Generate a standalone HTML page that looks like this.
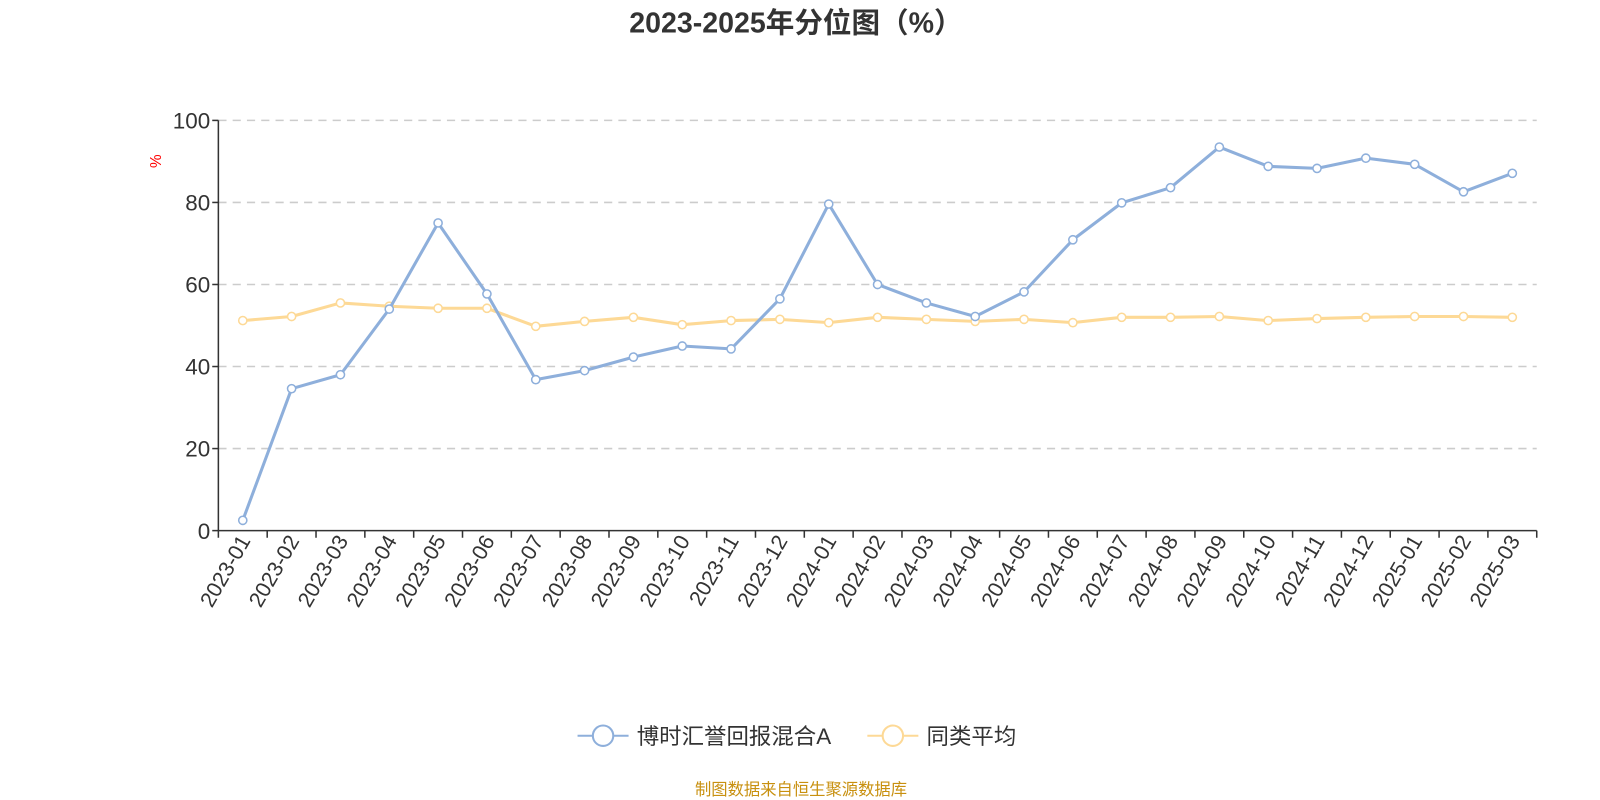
<!DOCTYPE html>
<html><head><meta charset="utf-8"><style>
body{margin:0;background:#fff;font-family:"Liberation Sans","Noto Sans CJK SC",sans-serif;}
svg{display:block;}
</style></head><body>
<svg width="1600" height="800" viewBox="0 0 1568 784" xmlns="http://www.w3.org/2000/svg" font-family="Liberation Sans, Noto Sans CJK SC, sans-serif">
<text x="780" y="32" text-anchor="middle" font-size="28" font-weight="bold" fill="#333">2023-2025年分位图（%）</text>
<text x="158" y="158" transform="rotate(-90 158 158)" text-anchor="middle" font-size="15" fill="red">%</text>
<g id="grid"></g><g id="axes"></g><g id="series"></g>
<g>
<g>
<line x1="566" y1="721" x2="616" y2="721" stroke="#8eafdb" stroke-width="2"/><circle cx="591" cy="721" r="10" fill="#fff" stroke="#8eafdb" stroke-width="2"/>
<text x="624" y="729" font-size="22" fill="#333">博时汇誉回报混合A</text></g>
<g>
<line x1="850" y1="721" x2="900" y2="721" stroke="#fdd996" stroke-width="2"/><circle cx="875" cy="721" r="10" fill="#fff" stroke="#fdd996" stroke-width="2"/>
<text x="908" y="729" font-size="22" fill="#333">同类平均</text></g>
</g>
<text x="785" y="779" text-anchor="middle" font-size="16" fill="#c8900f">制图数据来自恒生聚源数据库</text>
</svg>
<script>
const categories=["2023-01","2023-02","2023-03","2023-04","2023-05","2023-06","2023-07","2023-08","2023-09","2023-10","2023-11","2023-12","2024-01","2024-02","2024-03","2024-04","2024-05","2024-06","2024-07","2024-08","2024-09","2024-10","2024-11","2024-12","2025-01","2025-02","2025-03"];
const fundValues=[2.5,34.6,38,54,75,57.7,36.8,39,42.3,45,44.3,56.5,79.6,60,55.5,52.2,58.2,70.9,79.9,83.6,93.5,88.8,88.3,90.8,89.3,82.6,87.1];
const avgValues=[51.2,52.2,55.5,54.7,54.2,54.2,49.8,51,52,50.2,51.2,51.5,50.7,52,51.5,51,51.5,50.7,52,52,52.2,51.2,51.7,52,52.2,52.2,52];
const yTicks=[0,20,40,60,80,100];
const NS="http://www.w3.org/2000/svg";
const X0=214,X1=1506,Y0=520,Y1=118;
const bw=(X1-X0)/categories.length;
const xs=i=>X0+bw*(i+0.5);
const ys=v=>Y0-(v/100)*(Y0-Y1);
function mk(t,a,p){const e=document.createElementNS(NS,t);for(const k in a)e.setAttribute(k,a[k]);p.appendChild(e);return e;}
const grid=document.getElementById('grid'),axes=document.getElementById('axes'),ser=document.getElementById('series');
yTicks.forEach(v=>{
 if(v>0){const g=mk('line',{x1:X0,x2:X1,y1:ys(v),y2:ys(v),stroke:'#ccc','stroke-width':1.5,'stroke-dasharray':'8,6'},grid);
 
 }
 const t=mk('text',{x:X0-8,y:ys(v)+8,'text-anchor':'end','font-size':22,fill:'#333'},axes);t.textContent=v;
 
 
 mk('line',{x1:X0-6,x2:X0,y1:ys(v),y2:ys(v),stroke:'#333','stroke-width':1.5},axes);
});
let ya=mk('line',{x1:X0,x2:X0,y1:Y1,y2:Y0,stroke:'#333','stroke-width':1.5},axes);


let xa=mk('line',{x1:X0,x2:X1,y1:Y0,y2:Y0,stroke:'#333','stroke-width':1.5},axes);


for(let i=0;i<=categories.length;i++){mk('line',{x1:X0+bw*i,x2:X0+bw*i,y1:Y0,y2:Y0+7,stroke:'#333','stroke-width':1.5},axes);}
categories.forEach((c,i)=>{const x=xs(i),y=Y0+12;
 const t=mk('text',{x:x+6,y:y+6,'text-anchor':'end','font-size':21,fill:'#333',transform:`rotate(-60 ${x} ${y})`},axes);t.textContent=c;
 
 
});
function draw(vals,color,name){
 const p=mk('polyline',{points:vals.map((v,i)=>xs(i)+','+ys(v)).join(' '),fill:'none',stroke:color,'stroke-width':3,'stroke-linejoin':'round'},ser);
 
 
 vals.forEach((v,i)=>{const c=mk('circle',{cx:xs(i),cy:ys(v),r:4,fill:'#fff',stroke:color,'stroke-width':1.5},ser);
 
 });
}
draw(avgValues,'#fdd996','average');
draw(fundValues,'#8eafdb','fund');
</script>
</body></html>
